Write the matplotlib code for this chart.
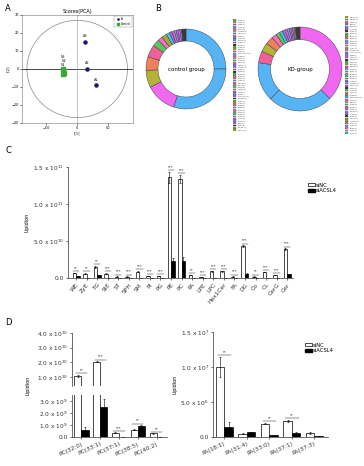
import numpy as np
import matplotlib
matplotlib.use("Agg")
import matplotlib.pyplot as plt
from matplotlib.patches import Ellipse, Patch

W, H = 364, 466

# ---------------------------------------------------------------- data
# A: PCA scores
pca_a_x = [31, 16, 13]
pca_a_y = [-9, 0, 15]
pca_a_lab = ["A1", "A2", "A3"]
pca_n_x = [-23, -22, -23]
pca_n_y = [0, -2, -3]
pca_n_lab = ["N1", "N2", "N3"]

# B: donut compositions (clockwise from 12 o'clock)
ctrl_colors = ["#56b4f5", "#56b4f5", "#f067f0", "#b3b33a", "#f07f5c", "#f0609a",
               "#5ec45e", "#f070c0", "#a8a83a", "#40c8d8", "#9a70f0", "#f060d0",
               "#70a0f0", "#c060f0", "#e070e0", "#8080f0", "#3a3a3a"]
ctrl_vals = [25, 30, 12.5, 7, 5.5, 5, 2.8, 2, 2, 1.4, 1, 1, 0.8, 0.8, 0.7, 0.7, 1.8]
kd_colors = ["#f067f0", "#56b4f5", "#56b4f5", "#f0609a", "#b3b33a", "#f07f5c",
             "#f070c0", "#5ec45e", "#40c8d8", "#9a70f0", "#f060d0", "#70a0f0",
             "#c060f0", "#e070e0", "#8080f0", "#a8a83a", "#3a3a3a"]
kd_vals = [37.5, 25, 15, 4.5, 3.5, 3, 2, 1.5, 1.2, 1, 0.9, 0.8, 0.7, 0.6, 0.6, 0.5, 1.8]
legend_colors = ["#5ec45e", "#a8a83a", "#f0609a", "#56b4f5", "#f067f0", "#b3b33a",
                 "#40c8d8", "#f07f5c", "#9a70f0", "#70a0f0", "#c060f0", "#3a3a3a"]
legend_names = ["PC(32:0)", "PC(33:1)", "PE(38:4)", "TG(52:2)", "DG(36:2)", "Cer(d42:2)",
                "SM(d34:1)", "PE(36:2)", "TG(54:3)", "LPC(16:0)", "PC(34:2)", "PE(40:6)",
                "PC(36:4)", "PI(38:4)", "PG(34:1)", "Hex1Cer(d42:1)", "PC(38:6)", "PE(34:1)",
                "TG(50:1)", "DG(34:1)", "SM(d42:2)", "Cer(d34:1)", "PC(36:1)", "PE(38:5)",
                "CL(72:8)", "PA(18:1)", "PA(37:1)", "PC(40:2)", "LPE(18:0)", "StE(18:1)",
                "WE(34:1)", "ZyE(18:1)", "FA(18:1)", "Co(Q10)", "CerG1(d42:1)", "SPH(d18:1)",
                "ST(27:1)", "PC(37:1)", "PC(38:5)", "PA(33:0)", "PA(31:4)", "PA(37:3)",
                "PE(36:1)", "PC(34:1)", "TG(48:0)", "DG(38:4)", "PI(36:2)", "PG(36:2)",
                "LPC(18:1)", "SM(d36:1)"]

# C: lipid classes (x 1e10)
classes = ["WE", "ZyE", "TG", "StE", "ST", "SPH", "SM", "PI", "PG", "PE", "PC", "PA",
           "LPE", "LPC", "Hex1Cer", "FA", "DG", "Co", "CL", "CerG", "Cer"]
sinc_c = [0.68, 0.6, 1.5, 0.6, 0.2, 0.2, 0.85, 0.3, 0.3, 13.6, 13.4, 0.4,
          0.1, 0.9, 0.9, 0.2, 4.3, 0.2, 0.8, 0.4, 3.9]
sinc_c_err = [0.05, 0.05, 0.1, 0.05, 0.02, 0.02, 0.05, 0.03, 0.03, 0.7, 0.5, 0.03,
              0.01, 0.05, 0.05, 0.02, 0.1, 0.02, 0.05, 0.03, 0.1]
sil4_c = [0.3, 0.05, 0.4, 0.05, 0.02, 0.02, 0.05, 0.02, 0.02, 2.3, 2.3, 0.02,
          0.01, 0.02, 0.02, 0.01, 0.6, 0.01, 0.02, 0.02, 0.5]
sil4_c_err = [0.03, 0.01, 0.05, 0.01, 0.01, 0.01, 0.01, 0.01, 0.01, 0.4, 0.5, 0.01,
              0.01, 0.01, 0.01, 0.01, 0.05, 0.01, 0.01, 0.01, 0.05]
stars_c = ["**", "**", "**", "***", "***", "***", "***", "***", "***", "***", "***", "**",
           "***", "***", "***", "***", "***", "**", "***", "***", "***"]

# D left: PC species (x 1e9)
pc_species = ["PC(32:0)", "PC(33:1)", "PC(37:1)", "PC(38:5)", "PC(40:2)"]
sinc_pc = [11.0, 20.5, 0.35, 0.6, 0.3]
sinc_pc_err = [0.6, 0.3, 0.03, 0.05, 0.03]
sil4_pc = [0.6, 2.5, 0.02, 0.95, 0.03]
sil4_pc_err = [0.2, 0.7, 0.01, 0.05, 0.01]
stars_pc = ["**", "***", "***", "**", "**"]

# D right: PA species (x 1e6)
pa_species = ["PA(18:1)", "PA(31:4)", "PA(33:0)", "PA(37:1)", "PA(37:3)"]
sinc_pa = [10.0, 0.5, 1.9, 2.3, 0.6]
sinc_pa_err = [1.4, 0.05, 0.1, 0.1, 0.1]
sil4_pa = [1.5, 0.7, 0.3, 0.55, 0.15]
sil4_pa_err = [0.7, 0.05, 0.05, 0.1, 0.03]
stars_pa = ["**", "", "**", "**", ""]


def rect(l, t, r, b):
    return [l / W, 1 - b / H, (r - l) / W, (b - t) / H]


def style_prism(ax, fs=4.2):
    for s in ("top", "right"):
        ax.spines[s].set_visible(False)
    for s in ("left", "bottom"):
        ax.spines[s].set_linewidth(0.5)
        ax.spines[s].set_color("#333333")
    ax.tick_params(width=0.5, length=1.5, labelsize=fs, pad=1.5, colors="#333333")


def pair_bars(ax, x, a, ae, b, be, scale, w=0.33):
    a = np.array(a) * scale
    b = np.array(b) * scale
    ax.bar(x - w / 2, a, w, yerr=np.array(ae) * scale, color="white",
           edgecolor="black", linewidth=0.5,
           error_kw=dict(elinewidth=0.4, capsize=0.8, capthick=0.4))
    ax.bar(x + w / 2, b, w, yerr=np.array(be) * scale, color="black",
           edgecolor="black", linewidth=0.5,
           error_kw=dict(elinewidth=0.4, capsize=0.8, capthick=0.4))


def sig_mark(ax, i, y, text, off):
    ax.plot([i - 0.3, i + 0.3], [y, y], color="black", linewidth=0.3, clip_on=False)
    ax.text(i, y + off, text, fontsize=2.6, ha="center", va="bottom", clip_on=False)


fig = plt.figure(figsize=(W / 100, H / 100), dpi=100)
plt.rcParams["font.family"] = ["DejaVu Sans"]

# ---------------------------------------------------------------- panel A
axA = fig.add_axes(rect(22, 15, 133, 123))
axA.add_patch(Ellipse((0, 0), 162, 54, fill=False, edgecolor="#888888", linewidth=0.5))
axA.axhline(0, color="black", linewidth=0.5)
axA.axvline(0, color="#999999", linewidth=0.4)
axA.scatter(pca_a_x, pca_a_y, s=5, color="#1a1a6e", zorder=3, label="A")
axA.scatter(pca_n_x, pca_n_y, s=5, color="#3aa83a", marker="s", zorder=3, label="Control")
for x, y, t in zip(pca_a_x, pca_a_y, pca_a_lab):
    axA.text(x, y + 2, t, fontsize=2.5, ha="center", va="bottom", color="#222222")
# N labels stacked above the green cluster
for k, (x, t) in enumerate(zip(pca_n_x, pca_n_lab)):
    axA.text(x, 1 + 2.3 * k, t, fontsize=2.3, ha="center", va="bottom",
             color="#222222")
axA.set_xlim(-89, 90)
axA.set_ylim(-30, 30)
axA.set_xticks([-50, 0, 50])
axA.set_yticks(range(-30, 31, 10))
axA.tick_params(labelsize=2.5, width=0.4, length=1.2, pad=1)
for s in axA.spines.values():
    s.set_linewidth(0.4)
    s.set_color("#777777")
axA.set_title("Scores(PCA)", fontsize=3.5, pad=1.5)
axA.set_xlabel("t[1]", fontsize=2.5, labelpad=1)
axA.set_ylabel("t[2]", fontsize=2.5, labelpad=1)
axA.legend(loc="upper right", fontsize=2, markerscale=0.4, handletextpad=0.2,
           borderpad=0.3, labelspacing=0.2, frameon=True, fancybox=False,
           edgecolor="#888888", framealpha=1).get_frame().set_linewidth(0.3)
fig.text(5 / W, 1 - 4 / H, "A", fontsize=6, va="top")

# ---------------------------------------------------------------- panel B
def donut(cx, cy, r, vals, cols, title):
    ax = fig.add_axes(rect(cx - r, cy - r, cx + r, cy + r))
    ax.pie(vals, colors=cols, startangle=90, counterclock=False, radius=1,
           wedgeprops=dict(width=0.3, edgecolor="#333333", linewidth=0.3))
    ax.set_xlim(-1, 1)
    ax.set_ylim(-1, 1)
    ax.set_aspect("auto")
    ax.text(0, 0, title, fontsize=4, ha="center", va="center")
    ax.axis("off")


def species_legend(l, t, b, names, shift):
    n = len(names)
    ax = fig.add_axes(rect(l, t, l + 20, b))
    ax.set_xlim(0, 1)
    ax.set_ylim(n, 0)
    ax.axis("off")
    for i, nm in enumerate(names):
        ax.add_patch(plt.Rectangle((0, i + 0.1), 0.17, 0.8,
                                   facecolor=legend_colors[(i + shift) % len(legend_colors)],
                                   edgecolor="#333333", linewidth=0.2))
        ax.text(0.25, i + 0.5, nm, fontsize=1.3, va="center", color="#333333")


donut(186, 69, 40, ctrl_vals, ctrl_colors, "control group")
donut(300, 69, 42, kd_vals, kd_colors, "KD-group")
species_legend(233, 19, 131, legend_names, 0)
species_legend(345, 16, 134, legend_names[::-1][:48] + legend_names[:2], 5)
fig.text(155 / W, 1 - 4 / H, "B", fontsize=6, va="top")

# ---------------------------------------------------------------- panel C
axC = fig.add_axes(rect(68, 167, 293, 278))
xc = np.arange(len(classes))
pair_bars(axC, xc, sinc_c, sinc_c_err, sil4_c, sil4_c_err, 1e10)
axC.set_xlim(-0.76, len(classes) - 0.45)
axC.set_ylim(0, 1.5e11)
axC.set_yticks([0, 5e10, 1e11, 1.5e11])
axC.set_yticklabels(["0.0", r"5.0 x 10$^{10}$", r"1.0 x 10$^{11}$", r"1.5 x 10$^{11}$"])
axC.set_xticks(xc)
axC.set_xticklabels(classes, rotation=50, ha="right", rotation_mode="anchor")
style_prism(axC)
axC.set_ylabel("Lipidion", fontsize=3.5, labelpad=2)
for i in xc:
    top = max(sinc_c[i] + sinc_c_err[i], sil4_c[i] + sil4_c_err[i]) * 1e10
    sig_mark(axC, i, top + 0.25e10, stars_c[i], 0.1e10)
axC.legend(handles=[Patch(facecolor="white", edgecolor="black", linewidth=0.5, label="siNC"),
                    Patch(facecolor="black", edgecolor="black", label="siACSL4")],
           loc="upper left", bbox_to_anchor=((305 - 68) / 225, 1 - (180 - 167) / 111),
           fontsize=3.8, frameon=False, handlelength=1.3, handleheight=0.6,
           handletextpad=0.3, labelspacing=0.1, borderpad=0)
fig.text(5 / W, 1 - 146 / H, "C", fontsize=6, va="top")

# ---------------------------------------------------------------- panel D left
xpc = np.arange(len(pc_species))
axDu = fig.add_axes(rect(72, 333, 167, 386))
axDl = fig.add_axes(rect(72, 395, 167, 437))
for ax in (axDu, axDl):
    pair_bars(ax, xpc, sinc_pc, sinc_pc_err, sil4_pc, sil4_pc_err, 1e9, w=0.38)
    style_prism(ax)
    ax.set_xlim(-0.5, len(pc_species) - 0.45)
axDu.set_ylim(0.4e10, 4e10)
axDu.set_yticks([1e10, 2e10, 3e10, 4e10])
axDu.set_yticklabels([r"1.0 x 10$^{10}$", r"2.0 x 10$^{10}$", r"3.0 x 10$^{10}$",
                      r"4.0 x 10$^{10}$"])
axDu.spines["bottom"].set_visible(False)
axDu.set_xticks([])
axDl.set_ylim(0, 3.5e9)
axDl.set_yticks([0, 1e9, 2e9, 3e9])
axDl.set_yticklabels(["0.0", r"1.0 x 10$^{9}$", r"2.0 x 10$^{9}$", r"3.0 x 10$^{9}$"])
axDl.set_xticks(xpc)
axDl.set_xticklabels(pc_species, rotation=25, ha="right", rotation_mode="anchor")
fig.text(28 / W, 1 - 385 / H, "Lipidion", fontsize=3.5, rotation=90,
         ha="center", va="center")
for i in xpc:
    top = max(sinc_pc[i] + sinc_pc_err[i], sil4_pc[i] + sil4_pc_err[i]) * 1e9
    ax = axDu if top > 3.5e9 else axDl
    off = 0.12e10 if ax is axDu else 0.12e9
    sig_mark(ax, i, top + off, stars_pc[i], off * 0.5)
fig.text(5 / W, 1 - 318 / H, "D", fontsize=6, va="top")

# ---------------------------------------------------------------- panel D right
xpa = np.arange(len(pa_species))
axE = fig.add_axes(rect(213, 332, 328, 437))
pair_bars(axE, xpa, sinc_pa, sinc_pa_err, sil4_pa, sil4_pa_err, 1e6, w=0.38)
style_prism(axE)
axE.set_xlim(-0.5, len(pa_species) - 0.4)
axE.set_ylim(0, 1.5e7)
axE.set_yticks([0, 5e6, 1e7, 1.5e7])
axE.set_yticklabels(["0.0", r"5.0 x 10$^{6}$", r"1.0 x 10$^{7}$", r"1.5 x 10$^{7}$"])
axE.set_xticks(xpa)
axE.set_xticklabels(pa_species, rotation=25, ha="right", rotation_mode="anchor")
axE.set_ylabel("Lipidion", fontsize=3.5, labelpad=2)
for i in xpa:
    if not stars_pa[i]:
        continue
    top = max(sinc_pa[i] + sinc_pa_err[i], sil4_pa[i] + sil4_pa_err[i]) * 1e6
    sig_mark(axE, i, top + 0.25e6, stars_pa[i], 0.1e6)
axE.legend(handles=[Patch(facecolor="white", edgecolor="black", linewidth=0.5, label="siNC"),
                    Patch(facecolor="black", edgecolor="black", label="siACSL4")],
           loc="upper left", bbox_to_anchor=((302 - 213) / 115, 1 - (340 - 332) / 105),
           fontsize=3.8, frameon=False, handlelength=1.3, handleheight=0.6,
           handletextpad=0.3, labelspacing=0.1, borderpad=0)

fig.savefig("out.png", dpi=100, facecolor="white")
